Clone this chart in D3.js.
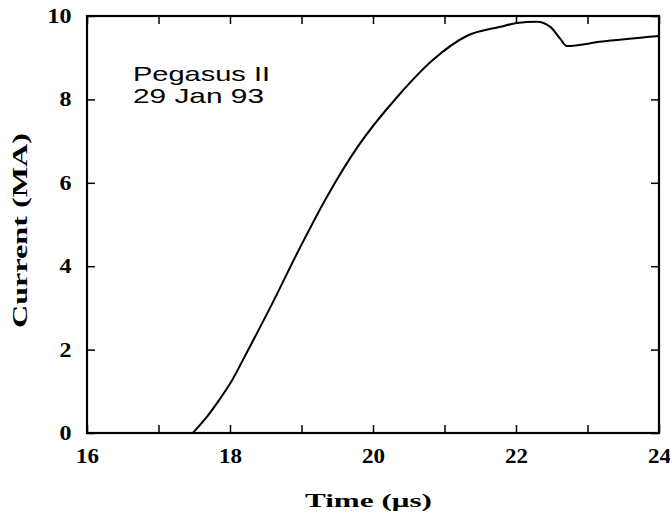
<!DOCTYPE html>
<html lang="en">
<head>
<meta charset="UTF-8">
<script src="https://cdn.jsdelivr.net/npm/d3@7"></script>
<title>Pegasus II current</title>
<style>
    body { margin: 0; background: #fff; }
    svg { display: block; }
    .tick text { font-family: "Liberation Serif", "DejaVu Serif", serif; font-weight: bold; }
</style>
</head>
<body>
<script>
    // ---- data ----
    const timeUs = [17.48, 17.65, 17.86, 18.0, 18.25, 18.56, 18.98, 19.36, 19.78, 20.36,
                    20.84, 21.31, 21.78, 22.01, 22.29, 22.48, 22.62, 22.71, 23.17, 24.0];
    const currentMA = [0, 0.33, 0.82, 1.18, 1.98, 3.0, 4.45, 5.68, 6.85, 8.1,
                       8.95, 9.52, 9.74, 9.83, 9.86, 9.74, 9.45, 9.28, 9.38, 9.52];
    const xTickLabels = [16, 18, 20, 22, 24];
    const xMinorTicks = [16, 17, 18, 19, 20, 21, 22, 23, 24];
    const yTickLabels = [0, 2, 4, 6, 8, 10];
    const annotation = ["Pegasus II", "29 Jan 93"];

    const W = 670, H = 517;
    const m = {left: 87, right: 11, top: 16, bottom: 84};
    const iw = W - m.left - m.right, ih = H - m.top - m.bottom;

    const svg = d3.select("body").append("svg").attr("width", W).attr("height", H);
    const g = svg.append("g").attr("transform", `translate(${m.left},${m.top})`);

    const x = d3.scaleLinear().domain([16, 24]).range([0, iw]);
    const y = d3.scaleLinear().domain([0, 10]).range([ih, 0]);

    // bottom axis with labels, ticks pointing inward
    const bottom = g.append("g").attr("transform", `translate(0,${ih})`)
        .call(d3.axisBottom(x).tickValues(xMinorTicks).tickSizeInner(-8).tickSizeOuter(0)
            .tickFormat(d => xTickLabels.includes(d) ? d : ""));
    bottom.selectAll(".tick text").attr("y", 16).attr("font-size", 20)
        .attr("transform", "scale(1.15,1)").attr("dy", "0.71em");

    g.append("g").call(d3.axisTop(x).tickValues(xMinorTicks).tickSizeInner(-8).tickSizeOuter(0).tickFormat(""));

    const left = g.append("g")
        .call(d3.axisLeft(y).tickValues(yTickLabels).tickSizeInner(-8).tickSizeOuter(0));
    left.selectAll(".tick text").attr("x", -13).attr("font-size", 20)
        .attr("transform", "scale(1.2,1)").attr("text-anchor", "end");

    g.append("g").attr("transform", `translate(${iw},0)`)
        .call(d3.axisRight(y).tickValues(yTickLabels).tickSizeInner(-8).tickSizeOuter(0).tickFormat(""));

    g.selectAll(".domain").remove();
    g.selectAll(".tick line").attr("stroke", "#000").attr("stroke-width", 1.5);
    g.selectAll(".tick text").attr("fill", "#000");

    // frame
    g.append("rect").attr("width", iw).attr("height", ih)
        .attr("fill", "none").attr("stroke", "#000").attr("stroke-width", 2.2);

    // current trace
    const pts = timeUs.map((t, i) => [t, currentMA[i]]);
    const line = d3.line().x(d => x(d[0])).y(d => y(d[1])).curve(d3.curveMonotoneX);
    g.append("path").datum(pts).attr("d", line)
        .attr("fill", "none").attr("stroke", "#000").attr("stroke-width", 2);

    // annotation
    annotation.forEach((s, i) => {
        svg.append("text").attr("x", 133).attr("y", 81 + i * 22)
            .attr("font-family", "Liberation Sans, Arial, sans-serif").attr("font-size", 21)
            .attr("textLength", i === 0 ? 137 : 131).attr("lengthAdjust", "spacingAndGlyphs")
            .text(s);
    });

    // axis titles
    svg.append("text").attr("x", 305).attr("y", 507)
        .attr("font-family", "Liberation Serif, serif").attr("font-weight", "bold").attr("font-size", 19)
        .attr("textLength", 127).attr("lengthAdjust", "spacingAndGlyphs")
        .text("Time (\u03bcs)");

    svg.append("text").attr("transform", "translate(27,328) rotate(-90)")
        .attr("font-family", "Liberation Serif, serif").attr("font-weight", "bold").attr("font-size", 21)
        .attr("textLength", 195).attr("lengthAdjust", "spacingAndGlyphs")
        .text("Current (MA)");
</script>
</body>
</html>
